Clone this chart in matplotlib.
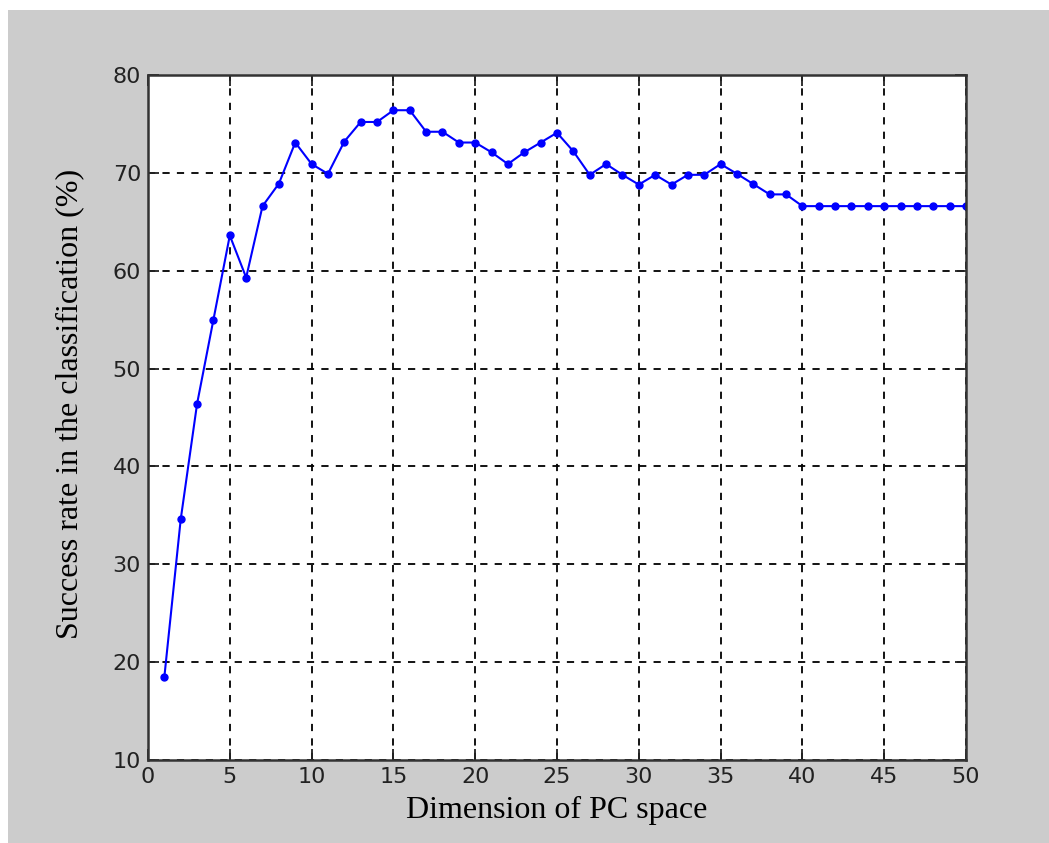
import matplotlib
matplotlib.use("Agg")
import matplotlib.pyplot as plt
import matplotlib.patches as patches

# Data
dims = list(range(1, 51))
success = [18.5, 34.6, 46.4, 55.0, 63.6, 59.3, 66.6, 68.9, 73.1, 70.9,
           69.9, 73.2, 75.2, 75.2, 76.4, 76.4, 74.2, 74.2, 73.1, 73.1,
           72.1, 70.9, 72.1, 73.1, 74.1, 72.2, 69.8, 70.9, 69.8, 68.8,
           69.8, 68.8, 69.8, 69.8, 70.9, 69.9, 68.85, 67.8, 67.8, 66.6,
           66.6, 66.6, 66.6, 66.6, 66.6, 66.6, 66.6, 66.6, 66.6, 66.6]
xticks = list(range(0, 51, 5))
yticks = list(range(10, 81, 10))

W, H = 1049, 843
fig = plt.figure(figsize=(W / 100, H / 100), dpi=100, facecolor="#cccccc")

# white border strip at top and left like the screenshot
fig.patches.append(patches.Rectangle((0, 1 - 10 / H), 1, 10 / H, transform=fig.transFigure,
                                     facecolor="white", edgecolor="none", zorder=0))
fig.patches.append(patches.Rectangle((0, 0), 8 / W, 1, transform=fig.transFigure,
                                     facecolor="white", edgecolor="none", zorder=0))

ax = fig.add_axes([148 / W, 1 - 760 / H, (966 - 148) / W, (760 - 75) / H])
ax.set_facecolor("white")

ax.plot(dims, success, color="#0000ff", linewidth=1.5, marker=".", markersize=10)

ax.set_xlim(0, 50)
ax.set_ylim(10, 80)
ax.set_xticks(xticks)
ax.set_yticks(yticks)

ax.grid(True, color="black", linestyle=(0, (4, 4)), linewidth=1.3)
ax.set_axisbelow(True)

ax.tick_params(direction="in", length=8, width=1.3, top=True, right=True,
               labelsize=16, colors="#222222", pad=5)

for s in ax.spines.values():
    s.set_linewidth(1.8)
    s.set_color("#333333")

ax.set_xlabel("Dimension of PC space", family="Liberation Serif", fontsize=23)
ax.set_ylabel("Success rate in the classification (%)", family="Liberation Serif",
              fontsize=23)
ax.xaxis.set_label_coords(0.5, -0.052)
ax.yaxis.set_label_coords(-0.078, 0.52)

fig.savefig("out.png", dpi=100, facecolor=fig.get_facecolor())
